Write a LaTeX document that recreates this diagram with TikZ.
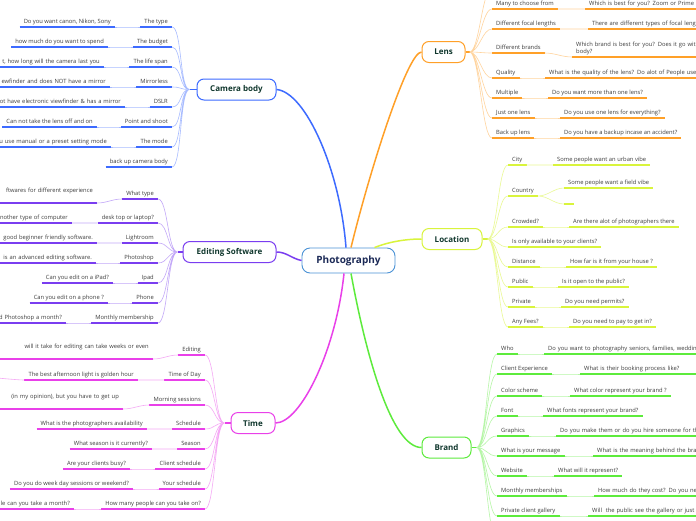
\documentclass[tikz,border=0pt]{standalone}
\usepackage{fontspec}
\setmainfont{Open Sans}
\usetikzlibrary{positioning}
\definecolor{camc}{HTML}{3D6BFF}
\definecolor{editc}{HTML}{7A3DF0}
\definecolor{timec}{HTML}{E940E9}
\definecolor{lensc}{HTML}{FFA028}
\definecolor{locc}{HTML}{D9F43C}
\definecolor{brandc}{HTML}{5DEB3C}
\definecolor{rootc}{HTML}{4B92D6}
\definecolor{rootink}{HTML}{1C2A57}
\definecolor{topicink}{HTML}{10372D}
\definecolor{leafink}{HTML}{3C3C3C}
\newcommand\leaffont{\fontsize{5.8}{7}\selectfont}

\begin{document}
\begin{tikzpicture}[x=1pt, y=-1pt,
  root/.style={draw=rootc, line width=0.9pt, rounded corners=8pt, fill=white, text=rootink, font=\bfseries\fontsize{10}{12}\selectfont, minimum width=93pt, minimum height=25pt},
  topic/.style={line width=1pt, rounded corners=7pt, fill=white, text=topicink, font=\bfseries\fontsize{8}{10}\selectfont, minimum height=21pt},
  trunk/.style={line width=1.5pt},
  leaf/.style={font=\leaffont, text=leafink, inner xsep=4pt, inner ysep=2pt, text depth=1.6pt},
  ul/.style={append after command={(\tikzlastnode.south west) edge[draw=#1, line width=1.3pt] (\tikzlastnode.south east)}},
  lfan/.style={to path={.. controls +(-10,0) and +(10,0) .. (\tikztotarget)}},
  rfan/.style={to path={.. controls +(10,0) and +(-10,0) .. (\tikztotarget)}},
  lcut/.style={text width=200pt, align=right},
  rcut/.style={text width=200pt, align=left},
  camleaf/.style={leaf, anchor=south east, ul=camc},
  camfan/.style={lfan, draw=camc!45, line width=0.6pt},
  editleaf/.style={leaf, anchor=south east, ul=editc},
  editfan/.style={lfan, draw=editc!45, line width=0.6pt},
  timeleaf/.style={leaf, anchor=south east, ul=timec},
  timefan/.style={lfan, draw=timec!45, line width=0.6pt},
  lensleaf/.style={leaf, anchor=south west, ul=lensc},
  lensfan/.style={rfan, draw=lensc!45, line width=0.6pt},
  locleaf/.style={leaf, anchor=south west, ul=locc},
  locfan/.style={rfan, draw=locc!55, line width=0.6pt},
  brandleaf/.style={leaf, anchor=south west, ul=brandc},
  brandfan/.style={rfan, draw=brandc!45, line width=0.6pt}
]
  \useasboundingbox (0,0) rectangle (696,520);
  \fill[white] (0,0) rectangle (696,520);
  \clip (0,0) rectangle (696,520);

  \node[root] (photo) at (348.5,260.5) {Photography};
  \node[topic, draw=camc, minimum width=79pt] (cam) at (236.5,89.5) {Camera body};
  \node[topic, draw=editc, minimum width=93pt] (edit) at (229.5,252) {Editing Software};
  \node[topic, draw=timec, minimum width=44pt] (time) at (253,423) {Time};
  \node[topic, draw=lensc, minimum width=43pt] (lens) at (443.5,52) {Lens};
  \node[topic, draw=locc, minimum width=60pt] (loc) at (452,239) {Location};
  \node[topic, draw=brandc, minimum width=49pt] (brand) at (446.5,447.5) {Brand};

  \draw[trunk, camc] ([xshift=-2.5pt]photo.north) .. controls +(-6,-78) and +(29,2.5) .. (cam.east);
  \draw[trunk, lensc] ([xshift=2.5pt]photo.north) .. controls +(19,-78) and +(-14,0) .. (lens.west);
  \draw[trunk, editc] (photo.west) .. controls +(-10,-2) and +(10,0) .. (edit.east);
  \draw[trunk, locc] ([xshift=26pt]photo.north) .. controls +(15,-6) and +(-15,0) .. (loc.west);
  \draw[trunk, timec] ([xshift=-4.5pt]photo.south) .. controls +(-8,77) and +(25,0) .. (time.east);
  \draw[trunk, brandc] ([xshift=2.5pt]photo.south) .. controls +(15,82) and +(-30,0) .. (brand.west);

  \coordinate (camhub) at ([xshift=-7pt]cam.west);
  \coordinate (edithub) at ([xshift=-5pt]edit.west);
  \coordinate (timehub) at ([xshift=-6pt]time.west);
  \coordinate (lenshub) at ([xshift=4pt]lens.east);
  \coordinate (lochub) at ([xshift=5pt]loc.east);
  \coordinate (brandhub) at ([xshift=5pt]brand.east);
  \draw[camc, line width=1.3pt] (cam.west) -- (camhub);
  \draw[editc, line width=1.3pt] (edit.west) -- (edithub);
  \draw[timec, line width=1.3pt] (time.west) -- (timehub);
  \draw[lensc, line width=1.3pt] (lens.east) -- (lenshub);
  \draw[locc, line width=1.3pt] (loc.east) -- (lochub);
  \draw[brandc, line width=1.3pt] (brand.east) -- (brandhub);

  \node[camleaf] (c1) at (172,27) {The type};
  \node[camleaf] (c1s) at (115,27) {Do you want canon, Nikon, Sony};
  \node[camleaf] (c2) at (172,47) {The budget};
  \node[camleaf] (c2s) at (108,47) {how much do you want to spend};
  \node[camleaf] (c3) at (172,67) {The life span};
  \node[camleaf, lcut] (c3s) at (104,67) {t, how long will the camera last you};
  \node[camleaf] (c4) at (172,87) {Mirrorless};
  \node[camleaf, lcut] (c4s) at (110,87) {ewfinder and does NOT have a mirror};
  \node[camleaf] (c5) at (172,107) {DSLR};
  \node[camleaf, lcut] (c5s) at (125,107) {ot have electronic viewfinder \& has a mirror};
  \node[camleaf] (c6) at (172,127) {Point and shoot};
  \node[camleaf] (c6s) at (97,127) {Can not take the lens off and on};
  \node[camleaf] (c7) at (172,147) {The mode};
  \node[camleaf, lcut] (c7s) at (111,147) {u use manual or a preset setting mode};
  \node[camleaf] (c8) at (172,167) {back up camera body};

  \draw[camfan] (camhub) to (c1.south east) (camhub) to (c2.south east) (camhub) to (c3.south east) (camhub) to (c4.south east);
  \draw[camfan] (camhub) to (c5.south east) (camhub) to (c6.south east) (camhub) to (c7.south east) (camhub) to (c8.south east);
  \draw[camfan] (c1.south west) to (c1s.south east) (c2.south west) to (c2s.south east) (c3.south west) to (c3s.south east);
  \draw[camfan] (c4.south west) to (c4s.south east) (c5.south west) to (c5s.south east) (c6.south west) to (c6s.south east);
  \draw[camfan] (c7.south west) to (c7s.south east);

  \node[editleaf] (e1) at (158,199) {What type};
  \node[editleaf, lcut, text depth=8.6pt] (e1s) at (97,203) {ftwares for different experience};
  \node[editleaf] (e2) at (158,223) {desk top or laptop?};
  \node[editleaf, lcut] (e2s) at (72,223) {nother type of computer};
  \node[editleaf] (e3) at (158,243) {Lightroom};
  \node[editleaf, lcut] (e3s) at (97,243) {good beginner friendly software.};
  \node[editleaf] (e4) at (158,263) {Photoshop};
  \node[editleaf, lcut] (e4s) at (96,263) {is an advanced editing software.};
  \node[editleaf] (e5) at (158,283) {Ipad};
  \node[editleaf] (e5s) at (113,283) {Can you edit on a iPad?};
  \node[editleaf] (e6) at (158,303) {Phone};
  \node[editleaf] (e6s) at (108,303) {Can you edit on a phone ?};
  \node[editleaf] (e7) at (158,323) {Monthly membership};
  \node[editleaf, lcut] (e7s) at (66,323) {d Photoshop a month?};

  \draw[editfan] (edithub) to (e1.south east) (edithub) to (e2.south east) (edithub) to (e3.south east) (edithub) to (e4.south east);
  \draw[editfan] (edithub) to (e5.south east) (edithub) to (e6.south east) (edithub) to (e7.south east);
  \draw[editfan] (e1.south west) to (e1s.south east) (e2.south west) to (e2s.south east) (e3.south west) to (e3s.south east);
  \draw[editfan] (e4.south west) to (e4s.south east) (e5.south west) to (e5s.south east) (e6.south west) to (e6s.south east);
  \draw[editfan] (e7.south west) to (e7s.south east);

  \node[timeleaf] (t1) at (205,355) {Editing};
  \node[timeleaf, lcut, text depth=8.6pt] (t1s) at (153,359) {will it take for editing can take weeks or even};
  \node[timeleaf] (t2) at (205,380) {Time of Day};
  \node[timeleaf] (t2s) at (138,380) {The best afternoon light is golden hour};
  \coordinate (t2more) at (-30,376);
  \node[timeleaf] (t3) at (205,405) {Morning sessions};
  \node[timeleaf, lcut, text depth=8.6pt] (t3s) at (123,409) {(in my opinion), but you have to get up};
  \node[timeleaf] (t4) at (205,429) {Schedule};
  \node[timeleaf] (t4s) at (147,429) {What is the photographers availability};
  \node[timeleaf] (t5) at (205,449) {Season};
  \node[timeleaf] (t5s) at (152,449) {What season is it currently?};
  \node[timeleaf] (t6) at (205,469) {Client schedule};
  \node[timeleaf] (t6s) at (130,469) {Are your clients busy?};
  \node[timeleaf] (t7) at (205,489) {Your schedule};
  \node[timeleaf] (t7s) at (133,489) {Do you do week day sessions or weekend?};
  \node[timeleaf] (t8) at (205,509) {How many people can you take on?};
  \node[timeleaf, lcut] (t8s) at (74,509) {le can you take a month?};

  \draw[timefan] (timehub) to (t1.south east) (timehub) to (t2.south east) (timehub) to (t3.south east) (timehub) to (t4.south east);
  \draw[timefan] (timehub) to (t5.south east) (timehub) to (t6.south east) (timehub) to (t7.south east) (timehub) to (t8.south east);
  \draw[timefan] (t1.south west) to (t1s.south east) (t2.south west) to (t2s.south east) (t2s.south west) to (t2more);
  \draw[timefan] (t3.south west) to (t3s.south east) (t4.south west) to (t4s.south east) (t5.south west) to (t5s.south east);
  \draw[timefan] (t6.south west) to (t6s.south east) (t7.south west) to (t7s.south east) (t8.south west) to (t8s.south east);

  \coordinate (lensmore) at (492,-12);
  \node[lensleaf] (l1) at (492,9) {Many to choose from};
  \node[lensleaf, rcut] (l1s) at (585,9) {Which is best for you? Zoom or Prime l};
  \node[lensleaf] (l2) at (492,29) {Different focal lengths};
  \node[lensleaf, rcut] (l2s) at (588,29) {There are different types of focal leng};
  \node[lensleaf] (l3) at (492,53) {Different brands};
  \node[lensleaf, rcut, text depth=8.6pt] (l3s) at (572,57) {Which brand is best for you? Does it go with\\body?};
  \node[lensleaf] (l4) at (492,78) {Quality};
  \node[lensleaf, rcut] (l4s) at (545,78) {What is the quality of the lens? Do alot of People use};
  \node[lensleaf] (l5) at (492,98) {Multiple};
  \node[lensleaf] (l5s) at (548,98) {Do you want more than one lens?};
  \node[lensleaf] (l6) at (492,118) {Just one lens};
  \node[lensleaf] (l6s) at (560,118) {Do you use one lens for everything?};
  \node[lensleaf] (l7) at (492,138) {Back up lens};
  \node[lensleaf] (l7s) at (560,138) {Do you have a backup incase an accident?};

  \draw[lensfan] (lenshub) to (lensmore) (lenshub) to (l1.south west) (lenshub) to (l2.south west) (lenshub) to (l3.south west);
  \draw[lensfan] (lenshub) to (l4.south west) (lenshub) to (l5.south west) (lenshub) to (l6.south west) (lenshub) to (l7.south west);
  \draw[lensfan] (l1.south east) to (l1s.south west) (l2.south east) to (l2s.south west) (l3.south east) to (l3s.south west);
  \draw[lensfan] (l4.south east) to (l4s.south west) (l5.south east) to (l5s.south west) (l6.south east) to (l6s.south west);
  \draw[lensfan] (l7.south east) to (l7s.south west);

  \node[locleaf] (o1) at (508,165) {City};
  \node[locleaf] (o1s) at (553,165) {Some people want an urban vibe};
  \node[locleaf] (o2) at (508,196) {Country};
  \node[locleaf] (o2s) at (564,188) {Some people want a field vibe};
  \node[locleaf, minimum width=10pt] (o2t) at (564,204) {};
  \node[locleaf] (o3) at (508,227) {Crowded?};
  \node[locleaf] (o3s) at (569,227) {Are there alot of photographers there};
  \node[locleaf] (o4) at (508,247) {Is only available to your clients?};
  \node[locleaf] (o5) at (508,267) {Distance};
  \node[locleaf] (o5s) at (566,267) {How far is it from your house ?};
  \node[locleaf] (o6) at (508,287) {Public};
  \node[locleaf] (o6s) at (558,287) {Is it open to the public?};
  \node[locleaf] (o7) at (508,307) {Private};
  \node[locleaf] (o7s) at (561,307) {Do you need permits?};
  \node[locleaf] (o8) at (508,327) {Any Fees?};
  \node[locleaf] (o8s) at (569,327) {Do you need to pay to get in?};

  \draw[locfan] (lochub) to (o1.south west) (lochub) to (o2.south west) (lochub) to (o3.south west) (lochub) to (o4.south west);
  \draw[locfan] (lochub) to (o5.south west) (lochub) to (o6.south west) (lochub) to (o7.south west) (lochub) to (o8.south west);
  \draw[locfan] (o1.south east) to (o1s.south west) (o2.south east) to (o2s.south west) (o2.south east) to (o2t.south west);
  \draw[locfan] (o3.south east) to (o3s.south west) (o5.south east) to (o5s.south west) (o6.south east) to (o6s.south west);
  \draw[locfan] (o7.south east) to (o7s.south west) (o8.south east) to (o8s.south west);

  \node[brandleaf] (b1) at (497,354) {Who};
  \node[brandleaf, rcut] (b1s) at (544,354) {Do you want to photography seniors, families, weddin};
  \node[brandleaf] (b2) at (497,374) {Client Experience};
  \node[brandleaf, rcut] (b2s) at (580,374) {What is their booking process like?};
  \node[brandleaf] (b3) at (497,396) {Color scheme};
  \node[brandleaf] (b3s) at (570,396) {What color represent your brand ?};
  \node[brandleaf] (b4) at (497,416) {Font};
  \node[brandleaf] (b4s) at (543,416) {What fonts represent your brand?};
  \node[brandleaf] (b5) at (497,436) {Graphics};
  \node[brandleaf, rcut] (b5s) at (556,436) {Do you make them or do you hire someone for th};
  \node[brandleaf] (b6) at (497,456) {What is your message};
  \node[brandleaf, rcut] (b6s) at (593,456) {What is the meaning behind the bra};
  \node[brandleaf] (b7) at (497,476) {Website};
  \node[brandleaf] (b7s) at (554,476) {What will it represent?};
  \node[brandleaf] (b8) at (497,496) {Monthly memberships};
  \node[brandleaf, rcut] (b8s) at (594,496) {How much do they cost? Do you nee};
  \node[brandleaf] (b9) at (497,516) {Private client gallery};
  \node[brandleaf, rcut] (b9s) at (588,516) {Will\ \ the public see the gallery or just t};
  \coordinate (brandmore) at (497,538);

  \draw[brandfan] (brandhub) to (b1.south west) (brandhub) to (b2.south west) (brandhub) to (b3.south west) (brandhub) to (b4.south west) (brandhub) to (b5.south west);
  \draw[brandfan] (brandhub) to (b6.south west) (brandhub) to (b7.south west) (brandhub) to (b8.south west) (brandhub) to (b9.south west) (brandhub) to (brandmore);
  \draw[brandfan] (b1.south east) to (b1s.south west) (b2.south east) to (b2s.south west) (b3.south east) to (b3s.south west);
  \draw[brandfan] (b4.south east) to (b4s.south west) (b5.south east) to (b5s.south west) (b6.south east) to (b6s.south west);
  \draw[brandfan] (b7.south east) to (b7s.south west) (b8.south east) to (b8s.south west) (b9.south east) to (b9s.south west);
\end{tikzpicture}
\end{document}
